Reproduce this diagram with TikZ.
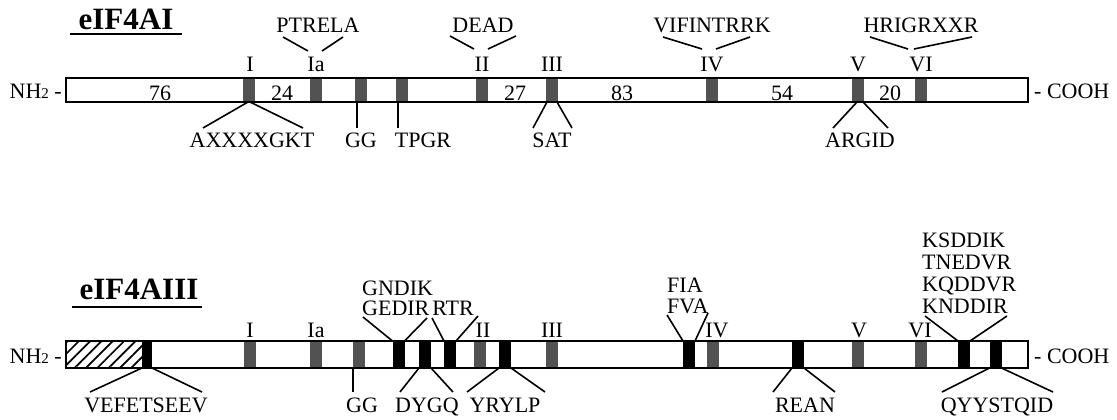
\documentclass[tikz,border=0pt]{standalone}
\usepackage{fontspec}
\setmainfont{Liberation Serif}
\usetikzlibrary{patterns.meta}
\newcommand\lblfont{\fontsize{22}{22}\selectfont}
\newcommand\ttlfont{\fontsize{31}{31}\selectfont\bfseries}
\newcommand\subtwo{{\fontsize{15}{15}\selectfont 2}}

\begin{document}
\begin{tikzpicture}[x=1pt,y=-1pt,
  lbl/.style={font=\lblfont, inner sep=0pt, anchor=base},
  lbll/.style={lbl, anchor=base west},
  ttl/.style={font=\ttlfont, inner sep=0pt, anchor=base},
  ul/.style={line width=2.2pt},
  conn/.style={line width=1.6pt},
  barframe/.style={draw, line width=1.8pt, minimum width=962pt, minimum height=#1, inner sep=0pt, outer sep=0pt},
  gbox/.style={fill=black!68, minimum width=12pt, minimum height=#1, inner sep=0pt, outer sep=0pt},
  kbox/.style={fill=black, minimum width=12pt, minimum height=#1, inner sep=0pt, outer sep=0pt},
  hatch/.style={pattern={Lines[angle=45,distance=8pt,line width=1.7pt]}},
]
\useasboundingbox (0,0) rectangle (1117,420);

% ================= eIF4AI =================
\node[ttl] (t1) at (126,30) {eIF4AI};
\draw[ul] (70,34) -- (182,34);

\node[barframe=24pt, fill=white] (bar1) at (547,90) {};
\node[gbox=24pt] (tI)   at (249,90) {};
\node[gbox=24pt] (tIa)  at (315.5,90) {};
\node[gbox=24pt] (tGG)  at (360.5,90) {};
\node[gbox=24pt] (tTP)  at (402,90) {};
\node[gbox=24pt] (tII)  at (482,90) {};
\node[gbox=24pt] (tIII) at (552,90) {};
\node[gbox=24pt] (tIV)  at (712,90) {};
\node[gbox=24pt] (tV)   at (858,90) {};
\node[gbox=24pt] (tVI)  at (921,90) {};
\node[barframe=24pt] at (bar1.center) {};

\node[lbl, anchor=base east] (nh1) at (62,99) {NH\subtwo\ -};
\node[lbl, anchor=base west] (co1) at (1034,99) {- COOH};

% motif numerals
\node[lbl] (rI1)   at (250,72) {I};
\node[lbl] (rIa1)  at (316,72) {Ia};
\node[lbl] (rII1)  at (482,72) {II};
\node[lbl] (rIII1) at (552,72) {III};
\node[lbl] (rIV1)  at (712,72) {IV};
\node[lbl] (rV1)   at (858,72) {V};
\node[lbl] (rVI1)  at (921,72) {VI};

% spacer lengths
\node[lbl] at (160,100) {76};
\node[lbl] at (282,100) {24};
\node[lbl] at (515,100) {27};
\node[lbl] at (622,100) {83};
\node[lbl] at (782,100) {54};
\node[lbl] at (890,100) {20};

% sequences above
\node[lbl] (ptrela) at (318,33) {PTRELA};
\node[lbl] (dead)   at (483,33) {DEAD};
\node[lbl] (vif)    at (712,33) {VIFINTRRK};
\node[lbl] (hrig)   at (921,33) {HRIGRXXR};
\coordinate (p1) at (283,37); \coordinate (p2) at (308,51);
\coordinate (p3) at (343,37); \coordinate (p4) at (322,51);
\coordinate (d1) at (450,36); \coordinate (d2) at (474,49);
\coordinate (d3) at (516,36); \coordinate (d4) at (488,49);
\coordinate (v1) at (663,37); \coordinate (v2) at (702,49);
\coordinate (v3) at (750,37); \coordinate (v4) at (716,49);
\coordinate (h1) at (870,37); \coordinate (h2) at (908,49);
\coordinate (h3) at (972,37); \coordinate (h4) at (914,49);
\draw[conn] (p1) -- (p2) (p3) -- (p4);
\draw[conn] (d1) -- (d2) (d3) -- (d4);
\draw[conn] (v1) -- (v2) (v3) -- (v4);
\draw[conn] (h1) -- (h2) (h3) -- (h4);

% sequences below
\node[lbl] (axx)  at (252,147) {AXXXXGKT};
\node[lbl] (gg1)  at (361,147) {GG};
\node[lbl] (tpgr) at (423,147) {TPGR};
\node[lbl] (sat)  at (552,147) {SAT};
\node[lbl] (argid) at (860,147) {ARGID};
\coordinate (a1) at (203,128); \coordinate (a2) at (303,128);
\coordinate (g1) at (357,128); \coordinate (tp1) at (398,128);
\coordinate (s1) at (533,128); \coordinate (s2) at (572,128);
\coordinate (r1) at (833,128); \coordinate (r2) at (888,128);
\draw[conn] ([xshift=-1pt]tI.south) -- (a1) ([xshift=1pt]tI.south) -- (a2);
\draw[conn] ([xshift=-3.5pt]tGG.south) -- (g1);
\draw[conn] ([xshift=-4pt]tTP.south) -- (tp1);
\draw[conn] ([xshift=-5pt]tIII.south) -- (s1) ([xshift=5pt]tIII.south) -- (s2);
\draw[conn] ([xshift=-1pt]tV.south) -- (r1) ([xshift=5pt]tV.south) -- (r2);

% ================= eIF4AIII =================
\node[ttl] (t3) at (139,299) {eIF4AIII};
\draw[ul] (72,307) -- (202,307);

\node[barframe=27pt, fill=white] (bar3) at (547,354.5) {};
\fill[hatch] (66,341) rectangle (142,368);
\node[kbox=27pt, minimum width=10pt] (bVEF) at (147,354.5) {};
\node[gbox=27pt] (bI)   at (249.5,354.5) {};
\node[gbox=27pt] (bIa)  at (315.5,354.5) {};
\node[gbox=27pt] (bGG)  at (359,354.5) {};
\node[kbox=27pt] (bK1)  at (398.5,354.5) {};
\node[kbox=27pt] (bK2)  at (425,354.5) {};
\node[kbox=27pt] (bK3)  at (450,354.5) {};
\node[gbox=27pt] (bII)  at (480,354.5) {};
\node[kbox=27pt] (bK4)  at (505,354.5) {};
\node[gbox=27pt] (bIII) at (552,354.5) {};
\node[kbox=27pt] (bK5)  at (689,354.5) {};
\node[gbox=27pt] (bIV)  at (712.5,354.5) {};
\node[kbox=27pt] (bK6)  at (798,354.5) {};
\node[gbox=27pt] (bV)   at (858,354.5) {};
\node[gbox=27pt] (bVI)  at (921,354.5) {};
\node[kbox=27pt] (bK7)  at (964,354.5) {};
\node[kbox=27pt] (bK8)  at (995.5,354.5) {};
\node[barframe=27pt] at (bar3.center) {};

\node[lbl, anchor=base east] (nh3) at (62,363) {NH\subtwo\ -};
\node[lbl, anchor=base west] (co3) at (1034,363) {- COOH};

\node[lbl] (rI3)   at (250,337) {I};
\node[lbl] (rIa3)  at (316,337) {Ia};
\node[lbl] (rII3)  at (483,337) {II};
\node[lbl] (rIII3) at (552,337) {III};
\node[lbl] (rIV3)  at (717,337) {IV};
\node[lbl] (rV3)   at (859,337) {V};
\node[lbl] (rVI3)  at (920,337) {VI};

% sequences above
\node[lbll] (gndik) at (362,295) {GNDIK};
\node[lbll] (gedir) at (362,315) {GEDIR};
\node[lbl]  (rtr)   at (453,315) {RTR};
\node[lbll] (fia)   at (667,292) {FIA};
\node[lbll] (fva)   at (667,313) {FVA};
\node[lbll] (ks1)   at (922,247) {KSDDIK};
\node[lbll] (ks2)   at (922,269) {TNEDVR};
\node[lbll] (ks3)   at (922,291) {KQDDVR};
\node[lbll] (ks4)   at (922,313) {KNDDIR};
\coordinate (ge1) at (363,317); \coordinate (ge2) at (427,318);
\coordinate (rt1) at (432,318); \coordinate (rt2) at (478,316);
\coordinate (fi1) at (667,315); \coordinate (fi2) at (708,313);
\coordinate (kn1) at (925,316); \coordinate (kn2) at (1007,316);
\draw[conn] (ge1) -- (bK1.north west) (ge2) -- (bK1.north east);
\draw[conn] (rt1) -- (bK3.north west) (rt2) -- (bK3.north east);
\draw[conn] (fi1) -- (bK5.north west) (fi2) -- (bK5.north east);
\draw[conn] (kn1) -- (bK7.north west) (kn2) -- (bK7.north east);

% sequences below
\node[lbl] (vef)   at (146,412) {VEFETSEEV};
\node[lbl] (gg3)   at (362,412) {GG};
\node[lbl] (dygq)  at (427,412) {DYGQ};
\node[lbl] (yrylp) at (505,412) {YRYLP};
\node[lbl] (rean)  at (805,412) {REAN};
\node[lbl] (qyy)   at (997,412) {QYYSTQID};
\coordinate (ve1) at (90,392);  \coordinate (ve2) at (202,392);
\coordinate (gg4) at (353,392);
\coordinate (dy1) at (400,392); \coordinate (dy2) at (453,392);
\coordinate (yr1) at (467,392); \coordinate (yr2) at (545,392);
\coordinate (re1) at (773,392); \coordinate (re2) at (835,392);
\coordinate (qy1) at (942,392); \coordinate (qy2) at (1053,392);
\draw[conn] (bVEF.south west) -- (ve1) (bVEF.south east) -- (ve2);
\draw[conn] (bGG.south west) -- (gg4);
\draw[conn] (bK2.south west) -- (dy1) (bK2.south east) -- (dy2);
\draw[conn] (bK4.south west) -- (yr1) (bK4.south east) -- (yr2);
\draw[conn] (bK6.south west) -- (re1) (bK6.south east) -- (re2);
\draw[conn] (bK8.south west) -- (qy1) (bK8.south east) -- (qy2);
\end{tikzpicture}
\end{document}
